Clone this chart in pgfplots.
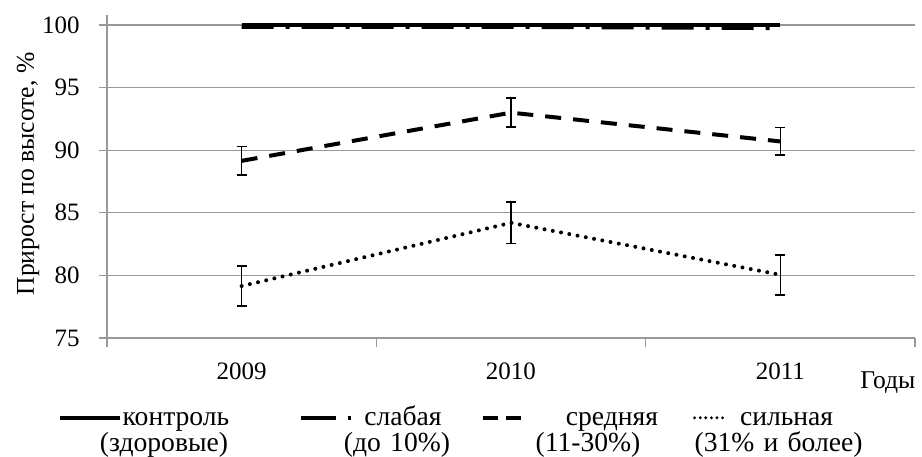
\documentclass[border=0pt]{standalone}
\usepackage{pgfplots}
\pgfplotsset{compat=1.18}
\usepackage{fontspec}
\setmainfont{Liberation Serif}
\begin{document}
\begin{tikzpicture}
\begin{axis}[
  scale only axis, width=404pt, height=156.5pt,
  xmin=0, xmax=3, ymin=75, ymax=100,
  axis x line*=bottom, axis y line*=left,
  axis line style={draw=gray!80, line width=0.6pt, -},
  y axis line style={shorten >=-5pt},
  xtick={0.5,1.5,2.5}, xticklabels={2009,2010,2011},
  minor xtick={0,1,2,3},
  ytick={75,80,...,100},
  tick align=outside,
  major tick length=4pt, minor tick length=4.5pt,
  major x tick style={draw=none},
  minor x tick style={draw=gray!80, line width=0.6pt},
  ytick style={draw=gray!80, line width=0.6pt},
  ymajorgrids, grid style={draw=gray!80, line width=0.6pt},
  tick label style={font=\fontsize{12.5}{15}\selectfont},
  /pgf/number format/assume math mode=true,
  yticklabel style={anchor=east, inner sep=0pt, xshift=-9.5pt},
  xticklabel style={anchor=base, inner sep=0pt, yshift=-16.75pt},
  ylabel={Прирост по высоте, \%},
  ylabel style={at={(axis description cs:-0.0977,0.524)}, anchor=center, font=\fontsize{12.8}{15}\selectfont},
  xlabel={Годы},
  xlabel style={at={(axis description cs:0.932,0)}, anchor=base west, inner sep=0pt, yshift=-25pt, font=\fontsize{12.8}{15}\selectfont},
  clip=false,
  legend columns=4,
  legend style={
    at={(axis description cs:0,0)}, anchor=north west,
    xshift=-24.5pt, yshift=-34pt,
    draw=none, fill=none, inner sep=0pt, outer sep=0pt,
    font={\fontsize{13.8}{12.8}\selectfont\lineskiplimit=-20pt},
    cells={anchor=base west},
    nodes={inner sep=0pt, outer sep=0pt, text width=90pt, align=center},
    /tikz/column 1/.style={column sep=-18pt},
    /tikz/column 2/.style={column sep=16.5pt},
    /tikz/column 3/.style={column sep=-20pt},
    /tikz/column 4/.style={column sep=-6pt},
    /tikz/column 5/.style={column sep=-0.5pt},
    /tikz/column 6/.style={column sep=-4.5pt},
    /tikz/column 7/.style={column sep=-16pt},
  },
]
\addplot[black, line width=2pt,
  legend image code/.code={\draw[black, line width=2pt] (0pt,4pt) -- (30pt,4pt);}]
  coordinates {(0.5,100) (1.5,100) (2.5,100)};
\addlegendentry{контроль\\\hspace*{-12pt}(здоровые)}

\addplot[black, line width=2pt, dash pattern=on 16pt off 6pt on 2pt off 6pt,
  legend image code/.code={\draw[black, line width=2pt, dash pattern=on 17.5pt off 6pt on 1.5pt off 6pt] (0pt,4pt) -- (25pt,4pt);}]
  coordinates {(0.5,99.85) (1.5,99.85) (2.5,99.75)};
\addlegendentry{слабая\\\hspace*{-6pt}(до 10\%)}

\addplot[black, line width=2pt, dash pattern=on 8pt off 6pt,
  error bars/.cd, y dir=both, y explicit,
  error bar style={solid, line cap=butt, line width=0.8pt, black},
  error mark options={solid, rotate=90, mark size=2.5pt, line width=0.8pt, black},
  /pgfplots/legend image code/.code={\draw[black, line width=2pt, dash pattern=on 7.5pt off 4pt] (0pt,4pt) -- (19pt,4pt);}]
  coordinates {(0.5,89.15) +- (0,1.15) (1.5,93.0) +- (0,1.15) (2.5,90.7) +- (0,1.1)};
\addlegendentry{средняя\\\hspace*{-24pt}(11-30\%)}

\addplot[black, line width=2pt, line cap=round, dash pattern=on 0pt off 4.2pt,
  error bars/.cd, y dir=both, y explicit,
  error bar style={solid, line cap=butt, line width=0.8pt, black},
  error mark options={solid, line cap=butt, rotate=90, mark size=2.5pt, line width=0.8pt, black},
  /pgfplots/legend image code/.code={\draw[black, line width=1.6pt, line cap=round, dash pattern=on 0pt off 2.8pt] (0.8pt,4pt) -- (17pt,4pt);}]
  coordinates {(0.5,79.15) +- (0,1.6) (1.5,84.2) +- (0,1.65) (2.5,80.05) +- (0,1.6)};
\addlegendentry{сильная\\\hspace*{-8pt}(31\% и более)}
\end{axis}
\pgfresetboundingbox
\path (-53.5pt,-59pt) rectangle (407.5pt,169pt);
\end{tikzpicture}
\end{document}
